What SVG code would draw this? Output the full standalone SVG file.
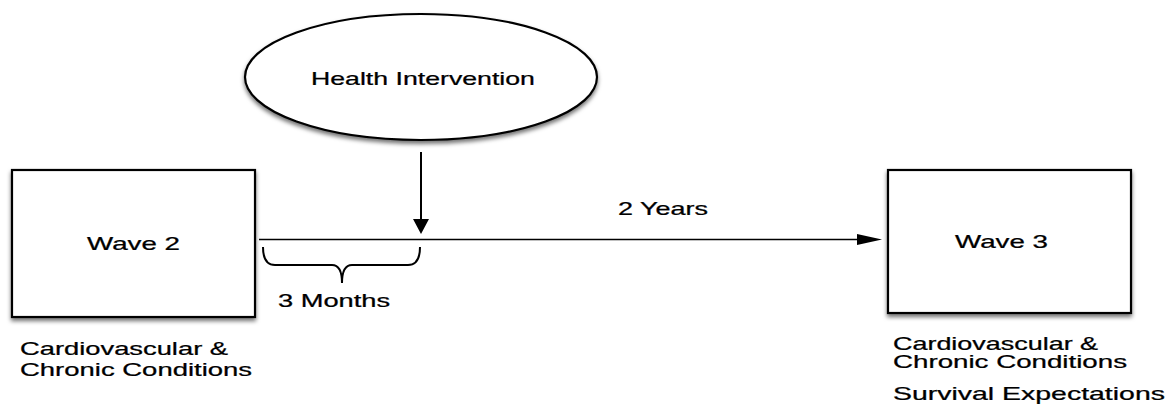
<svg xmlns="http://www.w3.org/2000/svg" width="1168" height="410" viewBox="0 0 1168 410">
<defs>
<filter id="sh" x="-10%" y="-10%" width="120%" height="130%">
<feDropShadow dx="0" dy="3" stdDeviation="2" flood-color="#000" flood-opacity="0.55"/>
</filter>
</defs>
<style>
.t{font-family:"Liberation Sans",Arial,sans-serif;font-size:18px;fill:#000;stroke:#000;stroke-width:0.25}
.node{fill:#fff;stroke:#000;stroke-width:2.2}
.ln{fill:none;stroke:#000}
</style>
<rect width="1168" height="410" fill="#fff"/>
<g id="health-intervention">
<ellipse class="node" cx="421" cy="77" rx="176" ry="63" filter="url(#sh)"/>
<text class="t" transform="translate(311,85) scale(1.5,1)" textLength="149.3" lengthAdjust="spacingAndGlyphs">Health Intervention</text>
</g>
<g id="wave2">
<rect class="node" x="12" y="170" width="243" height="147" filter="url(#sh)"/>
<text class="t" transform="translate(87,250) scale(1.5,1)" textLength="62" lengthAdjust="spacingAndGlyphs">Wave 2</text>
<text class="t" transform="translate(20,355) scale(1.5,1)" textLength="138.7" lengthAdjust="spacingAndGlyphs">Cardiovascular &amp;</text>
<text class="t" transform="translate(20,376) scale(1.5,1)" textLength="154.7" lengthAdjust="spacingAndGlyphs">Chronic Conditions</text>
</g>
<g id="wave3">
<rect class="node" x="888" y="170" width="243" height="143" filter="url(#sh)"/>
<text class="t" transform="translate(955,248) scale(1.5,1)" textLength="62" lengthAdjust="spacingAndGlyphs">Wave 3</text>
<text class="t" transform="translate(893,350) scale(1.5,1)" textLength="136.7" lengthAdjust="spacingAndGlyphs">Cardiovascular &amp;</text>
<text class="t" transform="translate(893,368) scale(1.5,1)" textLength="156" lengthAdjust="spacingAndGlyphs">Chronic Conditions</text>
<text class="t" transform="translate(893,400) scale(1.5,1)" textLength="181.3" lengthAdjust="spacingAndGlyphs">Survival Expectations</text>
</g>
<g id="connectors">
<line class="ln" x1="259" y1="239.5" x2="860" y2="239.5" stroke-width="1.6"/>
<polygon points="857,234 857,245 882,239.5" fill="#000"/>
<text class="t" transform="translate(618,215) scale(1.5,1)" textLength="60" lengthAdjust="spacingAndGlyphs">2 Years</text>
<line class="ln" x1="421" y1="152" x2="421" y2="222" stroke-width="2"/>
<polygon points="413,219 429,219 421,234" fill="#000"/>
<path class="ln" stroke-width="2" d="M263,247 Q263,265 275,265 L332,265 Q342,265 342,283 Q342,265 352,265 L408,265 Q420,265 420,247"/>
<text class="t" transform="translate(278,307) scale(1.5,1)" textLength="74.7" lengthAdjust="spacingAndGlyphs">3 Months</text>
</g>
</svg>
